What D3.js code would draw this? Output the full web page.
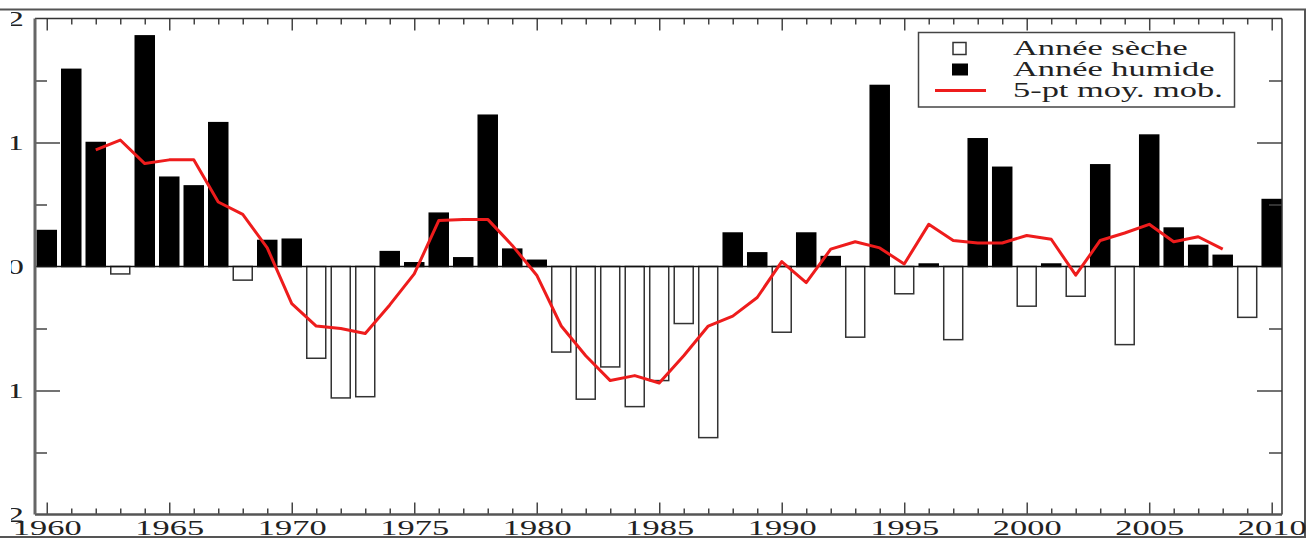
<!DOCTYPE html>
<html>
<head>
<meta charset="utf-8">
<script src="https://cdn.jsdelivr.net/npm/d3@7"></script>
<style>
  html, body { margin: 0; padding: 0; background: #fff; }
  svg { display: block; font-family: "Liberation Serif", "DejaVu Serif", serif; }
</style>
</head>
<body>
<div id="chart"></div>
<script>
(function() {
"use strict";

var years = [1960, 1961, 1962, 1963, 1964, 1965, 1966, 1967, 1968, 1969,
  1970, 1971, 1972, 1973, 1974, 1975, 1976, 1977, 1978, 1979,
  1980, 1981, 1982, 1983, 1984, 1985, 1986, 1987, 1988, 1989,
  1990, 1991, 1992, 1993, 1994, 1995, 1996, 1997, 1998, 1999,
  2000, 2001, 2002, 2003, 2004, 2005, 2006, 2007, 2008, 2009, 2010];
// rainfall index per year (dry < 0, wet > 0)
var anomaly = [0.29, 1.59, 1.00, -0.06, 1.86, 0.72, 0.65, 1.16, -0.11, 0.21,
  0.22, -0.74, -1.06, -1.05, 0.12, 0.03, 0.43, 0.07, 1.22, 0.14,
  0.05, -0.69, -1.07, -0.81, -1.13, -0.92, -0.46, -1.38, 0.27, 0.11,
  -0.53, 0.27, 0.08, -0.57, 1.46, -0.22, 0.02, -0.59, 1.03, 0.80,
  -0.32, 0.02, -0.24, 0.82, -0.63, 1.06, 0.31, 0.17, 0.09, -0.41, 0.54];
var maYears = [1962, 1963, 1964, 1965, 1966, 1967, 1968, 1969, 1970, 1971,
  1972, 1973, 1974, 1975, 1976, 1977, 1978, 1979, 1980, 1981,
  1982, 1983, 1984, 1985, 1986, 1987, 1988, 1989, 1990, 1991,
  1992, 1993, 1994, 1995, 1996, 1997, 1998, 1999, 2000, 2001,
  2002, 2003, 2004, 2005, 2006, 2007, 2008];
var movingAvg = [0.94, 1.02, 0.83, 0.86, 0.86, 0.52, 0.42, 0.15, -0.30, -0.48,
  -0.50, -0.54, -0.31, -0.06, 0.37, 0.38, 0.38, 0.17, -0.07, -0.48,
  -0.72, -0.92, -0.88, -0.94, -0.72, -0.48, -0.40, -0.25, 0.04, -0.13,
  0.14, 0.20, 0.15, 0.02, 0.34, 0.21, 0.19, 0.19, 0.25, 0.22,
  -0.07, 0.21, 0.27, 0.34, 0.20, 0.24, 0.14];
var xLabels = [1960, 1965, 1970, 1975, 1980, 1985, 1990, 1995, 2000, 2005, 2010];
var yLabels = [-2, -1, 0, 1, 2];
var legendLabels = ["Année sèche", "Année humide", "5-pt moy. mob."];

var W = 1309, H = 538;
var left = 35, right = 1282, top = 18.5, bottom = 514.5;
var STRETCH = 1.72; // the source picture is stretched sideways
var RED = "#ee1c1c";

var svg = d3.select("#chart").append("svg")
  .attr("width", W).attr("height", H);

var x = d3.scaleLinear().domain([1959.52, 2010.42]).range([left, right]);
var y = d3.scaleLinear().domain([-2, 2]).range([bottom, top]);
var barW = 19;

var data = years.map(function(yr, i) { return {year: yr, v: anomaly[i]}; });
var ma = maYears.map(function(yr, i) { return {year: yr, v: movingAvg[i]}; });

// outer frame
svg.append("rect")
  .attr("x", -3).attr("y", 9.5)
  .attr("width", 1308).attr("height", 527.5)
  .attr("fill", "none").attr("stroke", "#555").attr("stroke-width", 2);

// bars
svg.append("g").selectAll("rect")
  .data(data)
  .enter()
  .append("rect")
  .attr("x", function(d) { return x(d.year) - barW / 2; })
  .attr("y", function(d) { return y(Math.max(0, d.v)); })
  .attr("width", barW)
  .attr("height", function(d) { return Math.abs(y(d.v) - y(0)); })
  .attr("fill", function(d) { return d.v < 0 ? "#fff" : "#000"; })
  .attr("stroke", function(d) { return d.v < 0 ? "#333" : "#000"; })
  .attr("stroke-width", 1.5);

// zero line
svg.append("line")
  .attr("x1", left).attr("x2", right)
  .attr("y1", y(0)).attr("y2", y(0))
  .attr("stroke", "#111").attr("stroke-width", 1.3);

// moving average
svg.append("path")
  .datum(ma)
  .attr("d", d3.line()
    .x(function(d) { return x(d.year); })
    .y(function(d) { return y(d.v); }))
  .attr("fill", "none")
  .attr("stroke", RED)
  .attr("stroke-width", 3)
  .attr("stroke-linejoin", "round");

// ticks
var minorYears = years.filter(function(d) { return d % 5 !== 0; });
var yMinor = [-1.5, -0.5, 0.5, 1.5];
var yMajor = [-1, 1];

function tickAxis(axis, tx, ty) {
  var g = svg.append("g")
    .attr("transform", "translate(" + tx + "," + ty + ")")
    .call(axis);
  g.select(".domain").remove();
  g.selectAll("text").remove();
  g.selectAll("line").attr("stroke", "#444").attr("stroke-width", 1.5);
  return g;
}
tickAxis(d3.axisTop(x).tickValues(xLabels).tickSize(12), 0, bottom);
tickAxis(d3.axisTop(x).tickValues(minorYears).tickSize(6), 0, bottom);
tickAxis(d3.axisBottom(x).tickValues(xLabels).tickSize(12), 0, top);
tickAxis(d3.axisBottom(x).tickValues(minorYears).tickSize(6), 0, top);
tickAxis(d3.axisRight(y).tickValues(yMajor).tickSize(25), left, 0);
tickAxis(d3.axisRight(y).tickValues(yMinor).tickSize(12), left, 0);
tickAxis(d3.axisLeft(y).tickValues(yMajor).tickSize(25), right, 0);
tickAxis(d3.axisLeft(y).tickValues(yMinor).tickSize(13), right, 0);

// plot frame
svg.append("line").attr("x1", left).attr("x2", right).attr("y1", top).attr("y2", top)
  .attr("stroke", "#333").attr("stroke-width", 1.5);
svg.append("line").attr("x1", right).attr("x2", right).attr("y1", top).attr("y2", bottom)
  .attr("stroke", "#333").attr("stroke-width", 1.5);
svg.append("line").attr("x1", left).attr("x2", right).attr("y1", bottom).attr("y2", bottom)
  .attr("stroke", "#555").attr("stroke-width", 2.5);
svg.append("line").attr("x1", left).attr("x2", left).attr("y1", top).attr("y2", bottom)
  .attr("stroke", "#666").attr("stroke-width", 3);

// x labels
var xl = svg.append("g")
  .attr("transform", "translate(0," + bottom + ")")
  .call(d3.axisBottom(x).tickValues(xLabels).tickSize(0).tickFormat(d3.format("d")));
xl.select(".domain").remove();
xl.selectAll("text")
  .attr("y", 21).attr("dy", null)
  .attr("font-family", "Liberation Serif").attr("font-size", 20)
  .attr("fill", "#222")
  .attr("transform", "scale(" + STRETCH + ",1)");

// y labels, the minus signs fall outside the cropped picture
svg.append("clipPath").attr("id", "ylabclip")
  .append("rect").attr("x", 11).attr("y", 0).attr("width", 30).attr("height", H);
var yl = svg.append("g")
  .attr("clip-path", "url(#ylabclip)")
  .append("g")
  .attr("transform", "translate(24,0)")
  .call(d3.axisLeft(y).tickValues(yLabels).tickSize(0).tickPadding(0)
    .tickFormat(d3.format("d")));
yl.select(".domain").remove();
yl.selectAll("text")
  .attr("x", 0).attr("dy", "0.35em")
  .attr("font-family", "Liberation Serif").attr("font-size", 20)
  .attr("fill", "#222")
  .attr("transform", "scale(" + STRETCH + ",1)");

// legend
var lg = svg.append("g");
lg.append("rect")
  .attr("x", 918.5).attr("y", 32.5)
  .attr("width", 316).attr("height", 74.5)
  .attr("fill", "#fff").attr("stroke", "#444").attr("stroke-width", 1.5);
lg.append("rect")
  .attr("x", 953).attr("y", 42.5).attr("width", 13).attr("height", 12)
  .attr("fill", "#fff").attr("stroke", "#333").attr("stroke-width", 1.5);
lg.append("rect")
  .attr("x", 952).attr("y", 63.5).attr("width", 16).attr("height", 12)
  .attr("fill", "#000");
lg.append("line")
  .attr("x1", 935).attr("x2", 986).attr("y1", 90.5).attr("y2", 90.5)
  .attr("stroke", RED).attr("stroke-width", 3);
lg.selectAll("text")
  .data(legendLabels)
  .enter()
  .append("text")
  .attr("transform", function(d, i) {
    return "translate(1013," + (55 + i * 21) + ") scale(" + STRETCH + ",1)";
  })
  .attr("font-size", 20)
  .attr("fill", "#222")
  .text(function(d) { return d; });

})();
</script>
</body>
</html>
